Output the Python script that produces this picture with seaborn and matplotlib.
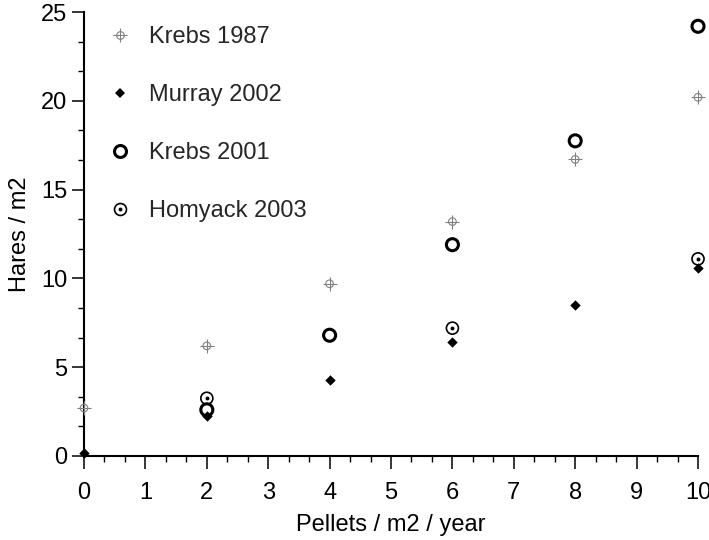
import numpy as np
import pandas as pd
import matplotlib
matplotlib.use("Agg")
import matplotlib.pyplot as plt
import seaborn as sns
from matplotlib.ticker import MultipleLocator
from matplotlib.legend_handler import HandlerTuple
from matplotlib.lines import Line2D

# data
krebs1987_x = [0, 2, 4, 6, 8, 10]
krebs1987_y = [2.7, 6.2, 9.7, 13.2, 16.7, 20.2]
murray2002_x = [0, 2, 4, 6, 8, 10]
murray2002_y = [0.15, 2.25, 4.3, 6.4, 8.5, 10.6]
krebs2001_x = [2, 4, 6, 8, 10]
krebs2001_y = [2.6, 6.8, 11.9, 17.75, 24.2]
homyack2003_x = [2, 6, 10]
homyack2003_y = [3.25, 7.2, 11.1]

sns.set_theme(style="ticks")
plt.rcParams['font.family'] = ['Liberation Sans', 'DejaVu Sans']

fig = plt.figure(figsize=(7.09, 5.40), dpi=100)
ax = fig.add_axes([0.1185, 0.1556, 0.866, 0.822])

grey = "#808080"
fs = 17
# Krebs 1987: small grey circle with a cross through it
sns.scatterplot(x=krebs1987_x, y=krebs1987_y, ax=ax, marker="o", s=30,
                facecolor="none", edgecolor=grey, linewidth=0.8, clip_on=False, zorder=3)
sns.scatterplot(x=krebs1987_x, y=krebs1987_y, ax=ax, marker="+", s=90,
                color=grey, linewidth=0.8, clip_on=False, zorder=3)
# Murray 2002: black diamond
sns.scatterplot(x=murray2002_x, y=murray2002_y, ax=ax, marker="D", s=28,
                color="black", linewidth=0, clip_on=False, zorder=3)
# Krebs 2001: thick open circle
sns.scatterplot(x=krebs2001_x, y=krebs2001_y, ax=ax, marker="o", s=75,
                facecolor="none", edgecolor="black", linewidth=2.2, clip_on=False, zorder=3)
# Homyack 2003: circle with centre dot
sns.scatterplot(x=homyack2003_x, y=homyack2003_y, ax=ax, marker="o", s=75,
                facecolor="none", edgecolor="black", linewidth=1.2, clip_on=False, zorder=3)
sns.scatterplot(x=homyack2003_x, y=homyack2003_y, ax=ax, marker="o", s=8,
                color="black", linewidth=0, clip_on=False, zorder=3)

ax.set_xlim(0, 10)
ax.set_ylim(0, 25)
ax.xaxis.set_major_locator(MultipleLocator(1))
ax.xaxis.set_minor_locator(MultipleLocator(1 / 3))
ax.yaxis.set_major_locator(MultipleLocator(5))
ax.yaxis.set_minor_locator(MultipleLocator(5 / 3))
ax.tick_params(which="major", length=9, width=1.1, labelsize=fs, color="black",
               labelcolor="black")
ax.tick_params(axis="x", which="major", pad=10)
ax.tick_params(axis="y", which="major", pad=3)
ax.tick_params(which="minor", length=4.5, width=1.0, color="black")
sns.despine(ax=ax)
for sp in ["left", "bottom"]:
    ax.spines[sp].set_linewidth(1.5)
    ax.spines[sp].set_color("black")

ax.set_xlabel("Pellets / m2 / year", fontsize=fs, color="black", labelpad=7)
ax.set_ylabel("Hares / m2", fontsize=fs, color="black", labelpad=7)

h1 = (Line2D([], [], ls="", marker="o", ms=5.5, mfc="none", mec=grey, mew=0.8),
      Line2D([], [], ls="", marker="+", ms=9.5, color=grey, mew=0.8))
h2 = Line2D([], [], ls="", marker="D", ms=5.3, color="black", mew=0)
h3 = Line2D([], [], ls="", marker="o", ms=8.6, mfc="none", mec="black", mew=2.2)
h4 = (Line2D([], [], ls="", marker="o", ms=8.6, mfc="none", mec="black", mew=1.2),
      Line2D([], [], ls="", marker="o", ms=2.8, color="black", mew=0))
ax.legend([h1, h2, h3, h4], ["Krebs 1987", "Murray 2002", "Krebs 2001", "Homyack 2003"],
          handler_map={tuple: HandlerTuple(ndivide=1, pad=0)},
          frameon=False, fontsize=fs, loc="upper left", bbox_to_anchor=(0.012, 1.005),
          labelspacing=1.52, handlelength=1.0, handletextpad=0.75, borderaxespad=0.3)

fig.savefig("out.png", dpi=100)
